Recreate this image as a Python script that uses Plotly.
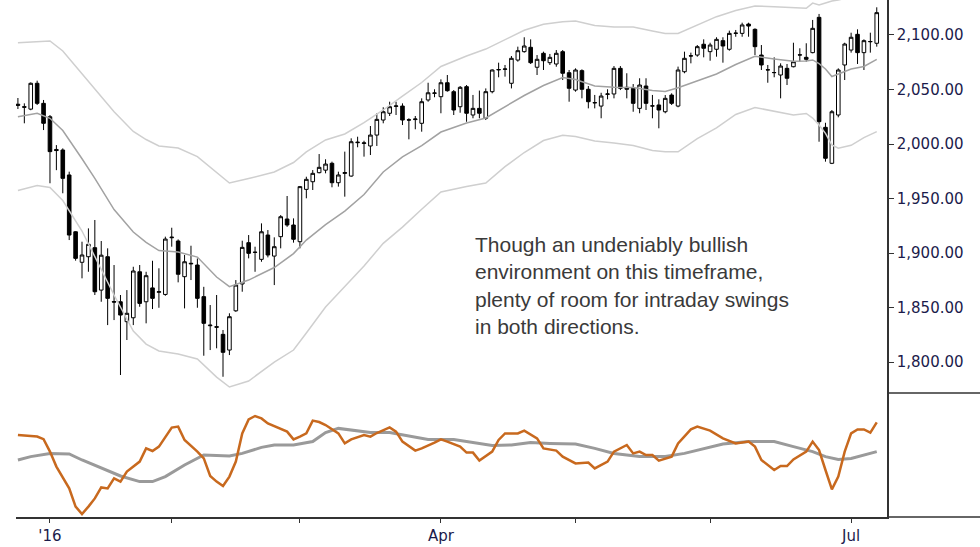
import plotly.graph_objects as go
from plotly.subplots import make_subplots

# Daily candles, index 0 = 24 Dec 2015 ... index 134 = 8 Jul 2016 (trading days)
OPEN = [2036.5, 2034.2, 2032.0, 2055.7, 2037.3, 2025.0, 1995.0, 1994.5, 1971.6, 1919.5,
        1891.5, 1896.6, 1904.9, 1866.0, 1896.6, 1855.5, 1855.3, 1837.0, 1840.6, 1882.8,
        1855.3, 1868.0, 1864.0, 1862.0, 1914.0, 1911.0, 1878.3, 1890.0, 1889.0, 1860.0,
        1833.3, 1832.4, 1825.4, 1811.0, 1847.0, 1871.6, 1909.5, 1900.8, 1894.2, 1916.5,
        1897.2, 1915.0, 1931.2, 1925.7, 1910.4, 1958.4, 1965.4, 1973.7, 1976.0, 1982.3,
        1964.5, 1973.0, 1970.6, 2001.2, 2000.5, 1998.2, 2008.2, 2022.0, 2028.2, 2034.5,
        2034.8, 2022.2, 2022.4, 2019.0, 2040.4, 2046.5, 2043.4, 2056.2, 2048.0, 2034.2,
        2052.6, 2026.6, 2032.7, 2023.6, 2048.0, 2068.0, 2068.5, 2055.7, 2077.0, 2084.7,
        2088.7, 2070.4, 2083.2, 2074.6, 2073.4, 2084.7, 2065.4, 2049.5, 2067.3, 2050.2,
        2038.0, 2034.8, 2045.6, 2045.9, 2069.4, 2052.0, 2051.1, 2032.7, 2053.2, 2034.8,
        2035.8, 2029.6, 2044.9, 2034.8, 2066.3, 2080.7, 2081.6, 2091.5, 2084.7, 2086.9,
        2094.8, 2086.9, 2101.5, 2101.5, 2110.0, 2105.2, 2081.6, 2067.9, 2065.4, 2063.3,
        2069.4, 2070.9, 2081.6, 2079.5, 2083.8, 2116.2, 2015.3, 1982.3, 2026.6, 2072.5,
        2086.2, 2100.6, 2083.8, 2093.8, 2092.4]
HIGH = [2042.2, 2037.3, 2056.5, 2058.1, 2040.4, 2026.6, 1999.0, 1996.0, 1974.6, 1920.0,
        1910.4, 1922.6, 1930.3, 1911.0, 1904.3, 1889.0, 1861.5, 1866.0, 1887.4, 1889.0,
        1882.8, 1892.9, 1886.0, 1915.0, 1923.2, 1912.5, 1898.2, 1906.7, 1895.0, 1869.0,
        1852.3, 1861.5, 1829.4, 1844.7, 1875.2, 1911.3, 1916.5, 1905.8, 1927.2, 1921.1,
        1914.4, 1934.8, 1952.3, 1931.8, 1961.5, 1970.0, 1976.1, 1990.8, 1986.0, 1983.8,
        1974.6, 1993.0, 2005.2, 2006.7, 2003.0, 2016.5, 2028.2, 2033.7, 2038.8, 2038.8,
        2037.3, 2023.6, 2025.7, 2041.9, 2056.2, 2050.2, 2059.3, 2063.3, 2049.5, 2053.2,
        2054.1, 2045.0, 2049.0, 2051.0, 2068.5, 2074.6, 2072.5, 2080.7, 2089.3, 2097.9,
        2096.0, 2081.6, 2084.7, 2082.6, 2086.2, 2086.2, 2067.9, 2069.4, 2068.5, 2053.2,
        2045.0, 2047.0, 2050.2, 2071.5, 2071.5, 2064.9, 2055.0, 2060.3, 2060.3, 2045.0,
        2041.0, 2044.9, 2046.5, 2071.0, 2084.7, 2083.8, 2090.8, 2096.0, 2092.9, 2097.9,
        2097.9, 2104.0, 2104.6, 2111.3, 2111.3, 2106.1, 2090.8, 2072.5, 2079.5, 2074.0,
        2073.4, 2092.9, 2087.8, 2092.4, 2113.8, 2119.3, 2019.5, 2031.2, 2069.4, 2092.9,
        2102.1, 2105.2, 2096.0, 2102.1, 2125.4]
LOW = [2032.1, 2019.0, 2031.0, 2035.8, 2012.8, 1964.0, 1976.0, 1954.8, 1911.9, 1893.0,
       1876.8, 1882.8, 1861.5, 1855.3, 1833.9, 1838.5, 1788.1, 1820.2, 1833.9, 1850.7,
       1835.5, 1848.6, 1849.8, 1860.8, 1905.8, 1873.1, 1849.2, 1875.2, 1849.8, 1805.8,
       1811.0, 1812.6, 1786.5, 1806.4, 1846.0, 1864.5, 1895.1, 1882.8, 1892.0, 1896.0,
       1870.6, 1904.3, 1924.0, 1909.5, 1904.3, 1950.2, 1957.8, 1973.1, 1973.1, 1960.3,
       1960.9, 1951.7, 1970.0, 1997.0, 1988.4, 1989.9, 1998.2, 2019.0, 2025.7, 2026.6,
       2017.4, 2004.3, 2013.5, 2011.3, 2038.8, 2042.9, 2028.2, 2048.0, 2026.6, 2028.7,
       2020.4, 2023.6, 2023.6, 2022.0, 2046.5, 2061.2, 2061.8, 2051.0, 2075.5, 2083.8,
       2073.4, 2063.3, 2067.9, 2072.5, 2070.9, 2058.7, 2038.8, 2048.0, 2041.9, 2032.7,
       2032.7, 2023.6, 2041.0, 2041.9, 2049.5, 2041.9, 2029.6, 2028.2, 2031.2, 2023.6,
       2014.4, 2028.2, 2035.8, 2033.7, 2064.9, 2074.0, 2080.1, 2079.5, 2076.4, 2080.1,
       2074.6, 2085.6, 2098.4, 2098.4, 2098.4, 2081.6, 2067.9, 2056.2, 2061.2, 2041.9,
       2054.1, 2070.3, 2075.5, 2075.5, 2083.2, 2002.1, 1983.8, 1981.6, 2024.5, 2058.7,
       2083.8, 2073.4, 2067.9, 2083.8, 2089.3]
CLOSE = [2035.5, 2033.8, 2055.7, 2037.3, 2019.0, 1993.0, 1994.0, 1968.5, 1916.5, 1895.1,
         1898.2, 1908.0, 1864.5, 1898.0, 1858.4, 1855.0, 1843.1, 1844.7, 1883.5, 1853.8,
         1879.2, 1858.4, 1864.5, 1912.8, 1914.5, 1880.5, 1892.0, 1890.5, 1858.4, 1835.5,
         1833.8, 1832.0, 1808.9, 1841.6, 1870.6, 1905.2, 1899.7, 1900.6, 1919.5, 1898.2,
         1905.8, 1933.3, 1925.7, 1912.6, 1960.9, 1967.6, 1973.1, 1978.6, 1981.6, 1964.5,
         1971.6, 1973.8, 2002.1, 2001.6, 2001.0, 2008.2, 2022.6, 2029.6, 2034.2, 2034.9,
         2022.0, 2022.0, 2022.9, 2038.8, 2047.0, 2046.8, 2056.2, 2048.9, 2031.2, 2052.0,
         2028.2, 2032.7, 2028.2, 2048.0, 2067.9, 2068.3, 2068.8, 2078.6, 2085.6, 2089.9,
         2074.6, 2077.7, 2076.4, 2079.5, 2083.2, 2064.9, 2051.1, 2067.9, 2050.2, 2038.8,
         2037.8, 2044.0, 2045.9, 2069.4, 2051.1, 2050.2, 2037.3, 2054.1, 2037.3, 2035.0,
         2031.2, 2041.9, 2037.3, 2067.9, 2078.6, 2080.9, 2089.3, 2087.8, 2090.8, 2096.0,
         2089.9, 2101.5, 2101.7, 2109.2, 2108.2, 2089.3, 2072.5, 2068.1, 2065.6, 2071.5,
         2060.3, 2075.5, 2081.8, 2077.7, 2106.1, 2020.5, 1986.9, 2029.6, 2067.9, 2091.7,
         2097.9, 2083.8, 2094.8, 2094.0, 2120.5]

# Channel lines read at sampled trading days
BAND_IDX = [0, 3, 5, 7, 10, 12, 15, 18, 20, 22, 25, 28, 31, 33, 36, 40, 43, 45, 48, 51,
            54, 57, 60, 63, 66, 70, 73, 76, 79, 82, 85, 87, 90, 93, 96, 99, 101, 103, 106,
            109, 112, 115, 118, 121, 123, 124, 125, 126, 127, 128, 130, 132, 134]
UPPER = [2092.9, 2094.0, 2094.5, 2085.3, 2064.7, 2050.9, 2029.6, 2011.5, 2004.1, 1998.2,
         1996.3, 1988.5, 1973.4, 1964.2, 1968.3, 1974.3, 1983.0, 1992.7, 2003.7, 2009.2,
         2019.7, 2031.2, 2044.0, 2056.4, 2071.1, 2080.7, 2087.1, 2096.0, 2104.3, 2109.8,
         2112.1, 2112.9, 2108.7, 2107.3, 2107.3, 2103.7, 2101.4, 2101.4, 2109.2, 2116.8,
         2122.5, 2126.6, 2126.0, 2124.9, 2124.5, 2129.3, 2127.5, 2129.3, 2131.2, 2132.1,
         2134.9, 2137.6, 2140.4]
MIDDLE = [2025.0, 2028.2, 2023.6, 2012.4, 1986.5, 1968.4, 1939.9, 1919.3, 1909.8, 1902.3,
          1900.9, 1896.3, 1878.0, 1869.1, 1875.2, 1886.7, 1899.5, 1911.9, 1926.1, 1938.5,
          1953.7, 1974.3, 1988.1, 1998.6, 2011.0, 2019.3, 2023.9, 2034.2, 2044.5, 2053.7,
          2061.0, 2059.2, 2053.2, 2052.0, 2051.8, 2049.1, 2048.2, 2051.6, 2057.8, 2064.2,
          2072.9, 2080.4, 2078.0, 2075.9, 2076.1, 2077.1, 2073.8, 2068.8, 2061.9, 2064.2,
          2068.8, 2071.1, 2077.7]
LOWER = [1957.3, 1961.9, 1960.1, 1948.2, 1920.2, 1896.8, 1861.5, 1828.4, 1816.5, 1810.1,
         1807.3, 1802.8, 1786.2, 1777.1, 1782.6, 1800.0, 1811.0, 1826.6, 1850.5, 1869.3,
         1888.1, 1908.9, 1923.8, 1940.1, 1956.0, 1961.0, 1964.2, 1979.2, 1992.2, 2003.2,
         2008.0, 2006.9, 2002.7, 2000.9, 1998.6, 1994.0, 1992.9, 1992.9, 2005.0, 2014.7,
         2027.1, 2033.5, 2029.8, 2026.6, 2028.0, 2023.8, 2017.4, 2009.8, 1999.1, 1996.1,
         1998.8, 2005.9, 2011.3]

# Lower pane oscillator (orange) and its slow line (grey)
OSC_IDX = [0, 3, 4, 5, 6, 8, 9, 10, 11, 12, 13, 14, 15, 16, 17, 19, 20, 21, 22, 23,
           24, 25, 26, 28, 29, 30, 31, 32, 33, 34, 35, 36, 37, 38, 39, 42, 43, 44, 45, 46,
           47, 48, 50, 51, 52, 54, 55, 56, 58, 59, 60, 62, 63, 65, 66, 67, 69, 70, 71, 72,
           74, 75, 76, 78, 79, 81, 82, 84, 85, 87, 89, 90, 91, 92, 93, 95, 96, 97, 98, 99,
           100, 102, 103, 105, 106, 108, 110, 112, 114, 115, 116, 118, 119, 120, 121, 123,
           124, 125, 126, 127, 128, 129, 130, 131, 132, 133, 134]
OSC = [8.0, 7.2, 5.9, -0.3, -7.8, -18.7, -27.8, -31.5, -27.8, -23.7, -18.2, -18.7, -13.7,
       -15.3, -10.3, -5.3, 1.3, 0.0, 2.2, 7.2, 11.7, 12.2, 5.5, -0.3, -3.7, -12.5, -15.3,
       -17.5, -12.8, -5.3, 8.8, 15.8, 17.5, 16.3, 13.8, 9.7, 5.8, 7.2, 8.8, 15.2, 14.5,
       13.0, 8.8, 3.8, 5.8, 8.0, 7.2, 9.0, 11.8, 9.7, 4.7, 0.2, 1.3, 4.2, 5.8, 4.7, 2.2,
       -0.8, -0.8, -4.8, -0.3, 5.5, 8.8, 8.8, 10.2, 6.3, 1.3, 0.2, -2.8, -6.2, -5.8, -8.7,
       -7.0, -5.3, -0.3, 3.0, -1.2, -0.3, -2.0, -2.0, -4.8, -2.8, 3.8, 10.8, 12.2, 10.2,
       6.3, 3.8, 4.7, 2.2, -4.5, -9.5, -7.5, -7.5, -4.2, -0.3, 4.7, 0.5, -9.5, -19.2,
       -12.8, -0.3, 8.8, 10.8, 10.8, 9.2, 14.3]
SIG_IDX = [0, 2, 5, 8, 10, 13, 16, 19, 21, 23, 26, 29, 33, 35, 38, 40, 43, 46, 48, 50,
           52, 55, 58, 61, 64, 68, 74, 77, 80, 83, 87, 90, 93, 97, 101, 104, 107, 110, 114,
           118, 121, 124, 126, 128, 130, 132, 134]
SIGNAL = [-4.5, -2.8, -1.2, -1.5, -4.5, -8.7, -12.5, -15.3, -15.3, -12.8, -7.0, -2.0, -2.5,
          -1.2, 1.8, 3.0, 3.0, 4.7, 9.2, 11.3, 10.5, 9.2, 9.2, 7.5, 5.8, 5.8, 2.8, 3.0,
          4.2, 3.8, 3.5, 1.3, -1.2, -2.8, -2.8, -1.2, 1.3, 3.5, 4.7, 4.7, 2.2, -0.3, -2.8,
          -4.2, -3.7, -2.0, -0.3]

TICK_IDX = [5, 24, 44, 66, 87, 108, 130]
TICK_TEXT = ["'16", "", "", "Apr", "", "", "Jul"]
PRICE_TICKS = [1800, 1850, 1900, 1950, 2000, 2050, 2100]
NOTE = ("Though an undeniably bullish<br>environment on this timeframe,<br>"
        "plenty of room for intraday swings<br>in both directions.")

INK = "#333333"
LABEL = "#1b1b4b"
AXIS_FONT = dict(family="DejaVu Sans", size=15, color=LABEL)

fig = make_subplots(rows=2, cols=1, shared_xaxes=True, vertical_spacing=0,
                    row_heights=[393, 124])

for vals, color in ((UPPER, "#cfcfcf"), (LOWER, "#cfcfcf"), (MIDDLE, "#a2a2a2")):
    fig.add_scatter(x=BAND_IDX, y=vals, mode="lines", showlegend=False,
                    hoverinfo="skip", line=dict(color=color, width=1.5), row=1, col=1)

days = list(range(len(CLOSE)))
fig.add_candlestick(x=days, open=OPEN, high=HIGH, low=LOW, close=CLOSE,
                    increasing=dict(line=dict(color="black", width=1), fillcolor="white"),
                    decreasing=dict(line=dict(color="black", width=1), fillcolor="black"),
                    whiskerwidth=0, showlegend=False, row=1, col=1)

fig.add_hline(y=0, line=dict(color="#bdbdbd", width=1), row=2, col=1)
fig.add_scatter(x=SIG_IDX, y=SIGNAL, mode="lines", showlegend=False,
                line=dict(color="#9a9a9a", width=3), row=2, col=1)
fig.add_scatter(x=OSC_IDX, y=OSC, mode="lines", showlegend=False,
                line=dict(color="#c8691e", width=2.5), row=2, col=1)

fig.add_annotation(x=71.0, y=1920, xref="x", yref="y", text=NOTE, showarrow=False,
                   xanchor="left", yanchor="top", align="left",
                   font=dict(family="Liberation Sans", size=21, color="#3a3a3a"))

split = 124 / 517
right = (980 - 16) / 871
for y in (split, 0):
    fig.add_shape(type="line", xref="paper", yref="paper", x0=1, x1=right, y0=y, y1=y,
                  line=dict(color=INK, width=1.5))

fig.update_xaxes(range=[-0.3, 135.6], showgrid=False, zeroline=False,
                 rangeslider_visible=False)
fig.update_xaxes(showticklabels=False, ticks="", row=1, col=1)
fig.update_xaxes(tickvals=TICK_IDX, ticktext=TICK_TEXT, ticks="outside", ticklen=4,
                 tickcolor=INK, showline=True, linecolor=INK, linewidth=1.5,
                 tickfont=AXIS_FONT, row=2, col=1)
fig.update_yaxes(side="right", range=[1771.6, 2132.1], tickvals=PRICE_TICKS,
                 ticktext=[f"{v:,.2f}" for v in PRICE_TICKS], ticks="outside",
                 ticklen=5, tickcolor=INK, showline=True, linecolor=INK, linewidth=1.5,
                 showgrid=False, zeroline=False, tickfont=AXIS_FONT, row=1, col=1)
fig.update_yaxes(side="right", range=[-33, 29], showticklabels=False, ticks="",
                 showline=True, linecolor=INK, linewidth=1.5, showgrid=False,
                 zeroline=False, row=2, col=1)

fig.update_layout(width=980, height=547, margin=dict(l=16, r=93, t=0, b=30),
                  paper_bgcolor="white", plot_bgcolor="white", showlegend=False,
                  boxgap=0.2)

# the page's default body margin would push the chart 8px off the window
fig.write_html("out.html", config={"displayModeBar": False},
               post_script="document.body.style.margin = '0';")
